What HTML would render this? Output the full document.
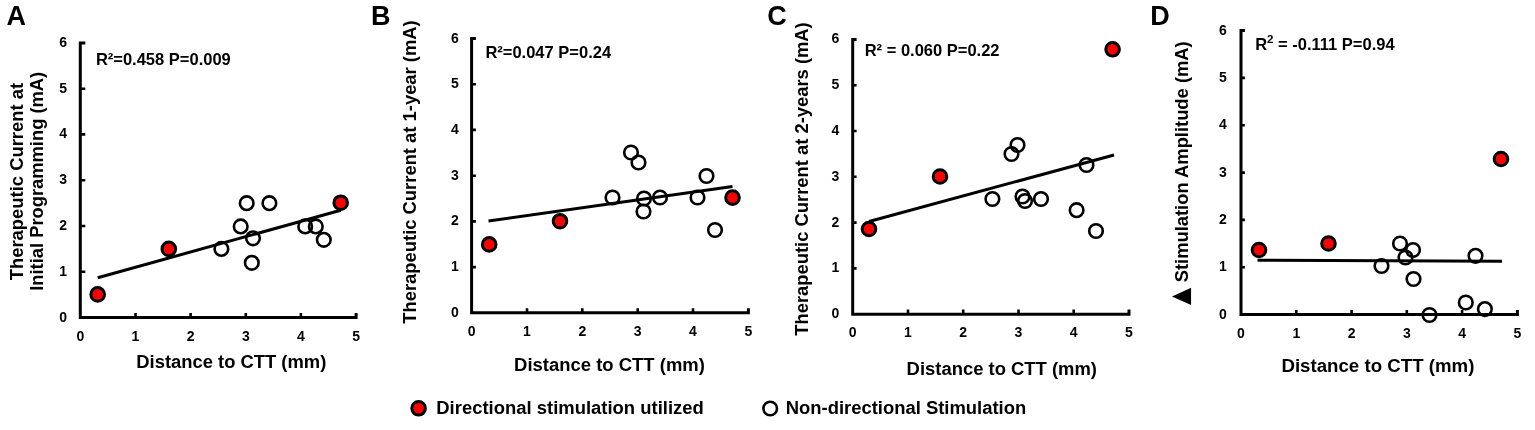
<!DOCTYPE html>
<html><head><meta charset="utf-8"><title>Figure</title>
<style>html,body{margin:0;padding:0;background:#fff;width:1535px;height:430px;overflow:hidden}svg{display:block}text{font-family:"Liberation Sans", Arial, Helvetica, sans-serif;font-weight:bold;fill:#000}</style></head><body>
<svg width="1535" height="430" viewBox="0 0 1535 430">
<rect width="1535" height="430" fill="#fff"/>
<g>
<text x="6.6" y="25.1" font-size="27">A</text>
<path d="M85.3 42.9 H80.3 V317.5 H356.1 V312.9" fill="none" stroke="#000" stroke-width="3.0" stroke-linejoin="miter"/>
<path d="M80.3 271.7H85.3M80.3 226.0H85.3M80.3 180.2H85.3M80.3 134.4H85.3M80.3 88.7H85.3M135.5 317.5V312.9M190.6 317.5V312.9M245.8 317.5V312.9M300.9 317.5V312.9" stroke="#000" stroke-width="2.6" fill="none"/>
<text x="67.1" y="321.5" font-size="14" text-anchor="end">0</text>
<text x="67.1" y="275.7" font-size="14" text-anchor="end">1</text>
<text x="67.1" y="230.0" font-size="14" text-anchor="end">2</text>
<text x="67.1" y="184.2" font-size="14" text-anchor="end">3</text>
<text x="67.1" y="138.4" font-size="14" text-anchor="end">4</text>
<text x="67.1" y="92.7" font-size="14" text-anchor="end">5</text>
<text x="67.1" y="46.9" font-size="14" text-anchor="end">6</text>
<text x="80.3" y="340.8" font-size="14" text-anchor="middle">0</text>
<text x="135.5" y="340.8" font-size="14" text-anchor="middle">1</text>
<text x="190.6" y="340.8" font-size="14" text-anchor="middle">2</text>
<text x="245.8" y="340.8" font-size="14" text-anchor="middle">3</text>
<text x="300.9" y="340.8" font-size="14" text-anchor="middle">4</text>
<text x="356.1" y="340.8" font-size="14" text-anchor="middle">5</text>
<text x="95.9" y="65.1" font-size="16.5">R²=0.458 P=0.009</text>
<text x="231.3" y="368.0" font-size="18" text-anchor="middle" textLength="190.0" lengthAdjust="spacingAndGlyphs">Distance to CTT (mm)</text>
<text transform="translate(22.8 181.6) rotate(-90)" font-size="18" text-anchor="middle" textLength="197.3" lengthAdjust="spacingAndGlyphs">Therapeutic Current at</text>
<text transform="translate(42.8 181.3) rotate(-90)" font-size="18" text-anchor="middle" textLength="219.0" lengthAdjust="spacingAndGlyphs">Initial Programming (mA)</text>
<line x1="97.7" y1="277.8" x2="340.7" y2="210.2" stroke="#000" stroke-width="3"/>
<circle cx="221.4" cy="248.9" r="6.8" fill="none" stroke="#000" stroke-width="2.6"/>
<circle cx="240.7" cy="226.4" r="6.8" fill="none" stroke="#000" stroke-width="2.6"/>
<circle cx="246.7" cy="203.2" r="6.8" fill="none" stroke="#000" stroke-width="2.6"/>
<circle cx="269.4" cy="203.2" r="6.8" fill="none" stroke="#000" stroke-width="2.6"/>
<circle cx="253.0" cy="238.3" r="6.8" fill="none" stroke="#000" stroke-width="2.6"/>
<circle cx="251.8" cy="262.8" r="6.8" fill="none" stroke="#000" stroke-width="2.6"/>
<circle cx="305.2" cy="226.4" r="6.8" fill="none" stroke="#000" stroke-width="2.6"/>
<circle cx="315.8" cy="226.4" r="6.8" fill="none" stroke="#000" stroke-width="2.6"/>
<circle cx="323.8" cy="239.8" r="6.8" fill="none" stroke="#000" stroke-width="2.6"/>
<circle cx="97.7" cy="294.4" r="6.8" fill="#f00" stroke="#000" stroke-width="3.0"/>
<circle cx="168.8" cy="248.9" r="6.8" fill="#f00" stroke="#000" stroke-width="3.0"/>
<circle cx="340.7" cy="202.7" r="6.8" fill="#f00" stroke="#000" stroke-width="3.0"/>
</g>
<g>
<text x="371.1" y="25.1" font-size="27">B</text>
<path d="M475.9 38.5 H471.6 V312.8 H748.4 V308.2" fill="none" stroke="#000" stroke-width="3.0" stroke-linejoin="miter"/>
<path d="M471.6 267.1H475.9M471.6 221.4H475.9M471.6 175.7H475.9M471.6 129.9H475.9M471.6 84.2H475.9M527.0 312.8V308.2M582.3 312.8V308.2M637.7 312.8V308.2M693.0 312.8V308.2" stroke="#000" stroke-width="2.6" fill="none"/>
<text x="458.9" y="316.8" font-size="14" text-anchor="end">0</text>
<text x="458.9" y="271.1" font-size="14" text-anchor="end">1</text>
<text x="458.9" y="225.4" font-size="14" text-anchor="end">2</text>
<text x="458.9" y="179.7" font-size="14" text-anchor="end">3</text>
<text x="458.9" y="133.9" font-size="14" text-anchor="end">4</text>
<text x="458.9" y="88.2" font-size="14" text-anchor="end">5</text>
<text x="458.9" y="42.5" font-size="14" text-anchor="end">6</text>
<text x="471.6" y="335.8" font-size="14" text-anchor="middle">0</text>
<text x="527.0" y="335.8" font-size="14" text-anchor="middle">1</text>
<text x="582.3" y="335.8" font-size="14" text-anchor="middle">2</text>
<text x="637.7" y="335.8" font-size="14" text-anchor="middle">3</text>
<text x="693.0" y="335.8" font-size="14" text-anchor="middle">4</text>
<text x="748.4" y="335.8" font-size="14" text-anchor="middle">5</text>
<text x="485.4" y="58.4" font-size="16.5">R²=0.047 P=0.24</text>
<text x="609.5" y="371.3" font-size="18" text-anchor="middle" textLength="190.8" lengthAdjust="spacingAndGlyphs">Distance to CTT (mm)</text>
<text transform="translate(416.3 172.0) rotate(-90)" font-size="18" text-anchor="middle" textLength="303.5" lengthAdjust="spacingAndGlyphs">Therapeutic Current at 1-year (mA)</text>
<line x1="488.5" y1="221.0" x2="732.5" y2="186.5" stroke="#000" stroke-width="3"/>
<circle cx="612.5" cy="197.5" r="6.8" fill="none" stroke="#000" stroke-width="2.6"/>
<circle cx="644.0" cy="198.5" r="6.8" fill="none" stroke="#000" stroke-width="2.6"/>
<circle cx="660.0" cy="197.5" r="6.8" fill="none" stroke="#000" stroke-width="2.6"/>
<circle cx="643.5" cy="211.5" r="6.8" fill="none" stroke="#000" stroke-width="2.6"/>
<circle cx="697.5" cy="197.5" r="6.8" fill="none" stroke="#000" stroke-width="2.6"/>
<circle cx="715.0" cy="230.0" r="6.8" fill="none" stroke="#000" stroke-width="2.6"/>
<circle cx="706.5" cy="176.0" r="6.8" fill="none" stroke="#000" stroke-width="2.6"/>
<circle cx="631.0" cy="152.5" r="6.8" fill="none" stroke="#000" stroke-width="2.6"/>
<circle cx="638.5" cy="162.5" r="6.8" fill="none" stroke="#000" stroke-width="2.6"/>
<circle cx="489.2" cy="244.4" r="6.8" fill="#f00" stroke="#000" stroke-width="3.0"/>
<circle cx="560.0" cy="221.2" r="6.8" fill="#f00" stroke="#000" stroke-width="3.0"/>
<circle cx="732.5" cy="197.6" r="6.8" fill="#f00" stroke="#000" stroke-width="3.0"/>
</g>
<g>
<text x="767.3" y="25.0" font-size="27">C</text>
<path d="M856.6 39.4 H852.7 V314.2 H1129.0 V309.6" fill="none" stroke="#000" stroke-width="3.0" stroke-linejoin="miter"/>
<path d="M852.7 268.4H856.6M852.7 222.6H856.6M852.7 176.8H856.6M852.7 131.0H856.6M852.7 85.2H856.6M908.0 314.2V309.6M963.2 314.2V309.6M1018.5 314.2V309.6M1073.7 314.2V309.6" stroke="#000" stroke-width="2.6" fill="none"/>
<text x="839.2" y="318.2" font-size="14" text-anchor="end">0</text>
<text x="839.2" y="272.4" font-size="14" text-anchor="end">1</text>
<text x="839.2" y="226.6" font-size="14" text-anchor="end">2</text>
<text x="839.2" y="180.8" font-size="14" text-anchor="end">3</text>
<text x="839.2" y="135.0" font-size="14" text-anchor="end">4</text>
<text x="839.2" y="89.2" font-size="14" text-anchor="end">5</text>
<text x="839.2" y="43.4" font-size="14" text-anchor="end">6</text>
<text x="852.7" y="337.2" font-size="14" text-anchor="middle">0</text>
<text x="908.0" y="337.2" font-size="14" text-anchor="middle">1</text>
<text x="963.2" y="337.2" font-size="14" text-anchor="middle">2</text>
<text x="1018.5" y="337.2" font-size="14" text-anchor="middle">3</text>
<text x="1073.7" y="337.2" font-size="14" text-anchor="middle">4</text>
<text x="1129.0" y="337.2" font-size="14" text-anchor="middle">5</text>
<text x="864.7" y="55.7" font-size="16.5">R² = 0.060 P=0.22</text>
<text x="1001.8" y="375.0" font-size="18" text-anchor="middle" textLength="190.4" lengthAdjust="spacingAndGlyphs">Distance to CTT (mm)</text>
<text transform="translate(808.0 179.0) rotate(-90)" font-size="18" text-anchor="middle" textLength="313.5" lengthAdjust="spacingAndGlyphs">Therapeutic Current at 2-years (mA)</text>
<line x1="869.0" y1="221.5" x2="1114.0" y2="155.0" stroke="#000" stroke-width="3"/>
<circle cx="1011.5" cy="154.0" r="6.8" fill="none" stroke="#000" stroke-width="2.6"/>
<circle cx="1017.5" cy="145.0" r="6.8" fill="none" stroke="#000" stroke-width="2.6"/>
<circle cx="1086.5" cy="165.0" r="6.8" fill="none" stroke="#000" stroke-width="2.6"/>
<circle cx="992.4" cy="199.0" r="6.8" fill="none" stroke="#000" stroke-width="2.6"/>
<circle cx="1022.5" cy="196.5" r="6.8" fill="none" stroke="#000" stroke-width="2.6"/>
<circle cx="1025.0" cy="201.0" r="6.8" fill="none" stroke="#000" stroke-width="2.6"/>
<circle cx="1041.0" cy="199.0" r="6.8" fill="none" stroke="#000" stroke-width="2.6"/>
<circle cx="1076.6" cy="210.2" r="6.8" fill="none" stroke="#000" stroke-width="2.6"/>
<circle cx="1096.0" cy="231.0" r="6.8" fill="none" stroke="#000" stroke-width="2.6"/>
<circle cx="1112.6" cy="49.3" r="6.8" fill="#f00" stroke="#000" stroke-width="3.0"/>
<circle cx="940.0" cy="176.5" r="6.8" fill="#f00" stroke="#000" stroke-width="3.0"/>
<circle cx="869.0" cy="229.0" r="6.8" fill="#f00" stroke="#000" stroke-width="3.0"/>
</g>
<g>
<text x="1150.2" y="25.1" font-size="27">D</text>
<path d="M1244.9 30.5 H1241.0 V314.6 H1517.4 V310.0" fill="none" stroke="#000" stroke-width="3.0" stroke-linejoin="miter"/>
<path d="M1241.0 267.2H1244.9M1241.0 219.9H1244.9M1241.0 172.6H1244.9M1241.0 125.2H1244.9M1241.0 77.9H1244.9M1296.3 314.6V310.0M1351.6 314.6V310.0M1406.8 314.6V310.0M1462.1 314.6V310.0" stroke="#000" stroke-width="2.6" fill="none"/>
<text x="1226.9" y="318.6" font-size="14" text-anchor="end">0</text>
<text x="1226.9" y="271.2" font-size="14" text-anchor="end">1</text>
<text x="1226.9" y="223.9" font-size="14" text-anchor="end">2</text>
<text x="1226.9" y="176.6" font-size="14" text-anchor="end">3</text>
<text x="1226.9" y="129.2" font-size="14" text-anchor="end">4</text>
<text x="1226.9" y="81.9" font-size="14" text-anchor="end">5</text>
<text x="1226.9" y="34.5" font-size="14" text-anchor="end">6</text>
<text x="1241.0" y="337.6" font-size="14" text-anchor="middle">0</text>
<text x="1296.3" y="337.6" font-size="14" text-anchor="middle">1</text>
<text x="1351.6" y="337.6" font-size="14" text-anchor="middle">2</text>
<text x="1406.8" y="337.6" font-size="14" text-anchor="middle">3</text>
<text x="1462.1" y="337.6" font-size="14" text-anchor="middle">4</text>
<text x="1517.4" y="337.6" font-size="14" text-anchor="middle">5</text>
<text x="1255.2" y="49.9" font-size="16.5">R<tspan font-size="11.5" dy="-6.5">2</tspan><tspan dy="6.5"> = -0.111 P=0.94</tspan></text>
<text x="1377.9" y="372.4" font-size="18" text-anchor="middle" textLength="193.0" lengthAdjust="spacingAndGlyphs">Distance to CTT (mm)</text>
<text transform="translate(1188.0 161.8) rotate(-90)" font-size="18" text-anchor="middle" textLength="241.0" lengthAdjust="spacingAndGlyphs">Stimulation Amplitude (mA)</text>
<line x1="1257.5" y1="260.3" x2="1502.0" y2="261.2" stroke="#000" stroke-width="3"/>
<circle cx="1381.5" cy="266.0" r="6.8" fill="none" stroke="#000" stroke-width="2.6"/>
<circle cx="1400.0" cy="243.5" r="6.8" fill="none" stroke="#000" stroke-width="2.6"/>
<circle cx="1405.5" cy="257.5" r="6.8" fill="none" stroke="#000" stroke-width="2.6"/>
<circle cx="1413.0" cy="250.0" r="6.8" fill="none" stroke="#000" stroke-width="2.6"/>
<circle cx="1413.5" cy="279.0" r="6.8" fill="none" stroke="#000" stroke-width="2.6"/>
<circle cx="1429.5" cy="315.0" r="6.8" fill="none" stroke="#000" stroke-width="2.6"/>
<circle cx="1465.8" cy="302.5" r="6.8" fill="none" stroke="#000" stroke-width="2.6"/>
<circle cx="1484.9" cy="309.1" r="6.8" fill="none" stroke="#000" stroke-width="2.6"/>
<circle cx="1475.5" cy="255.8" r="6.8" fill="none" stroke="#000" stroke-width="2.6"/>
<circle cx="1259.0" cy="250.0" r="6.8" fill="#f00" stroke="#000" stroke-width="3.0"/>
<circle cx="1328.5" cy="243.5" r="6.8" fill="#f00" stroke="#000" stroke-width="3.0"/>
<circle cx="1501.0" cy="159.0" r="6.8" fill="#f00" stroke="#000" stroke-width="3.0"/>
</g>
<text transform="translate(1187.6 296.4) rotate(-90) scale(1.12 1.25)" font-size="20" text-anchor="middle" style="font-family:'DejaVu Sans',sans-serif">▲</text>
<circle cx="418.6" cy="408.3" r="6.8" fill="#f00" stroke="#000" stroke-width="3.0"/>
<text x="436.3" y="413.8" font-size="18" textLength="267.5" lengthAdjust="spacingAndGlyphs">Directional stimulation utilized</text>
<circle cx="770.2" cy="408.5" r="6.8" fill="#fff" stroke="#000" stroke-width="2.6"/>
<text x="785.7" y="413.8" font-size="18" textLength="240.5" lengthAdjust="spacingAndGlyphs">Non-directional Stimulation</text>
</svg>
</body></html>
